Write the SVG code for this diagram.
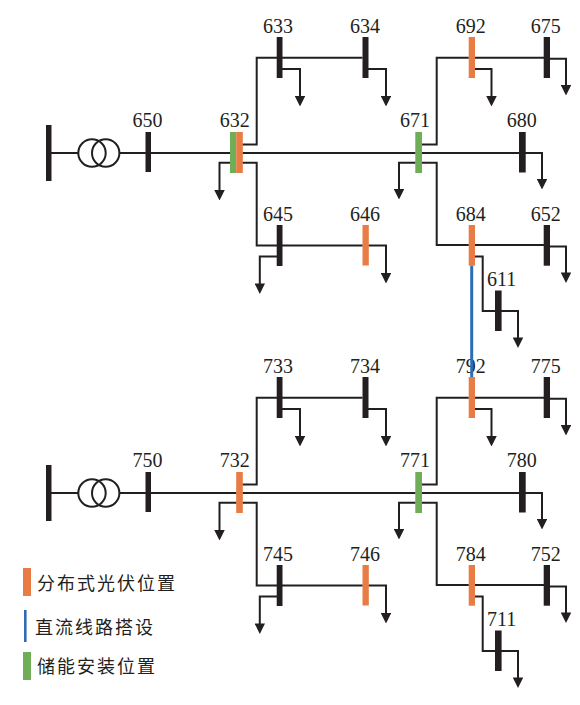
<svg xmlns="http://www.w3.org/2000/svg" width="580" height="705" viewBox="0 0 580 705">
<style>
.k{fill:#231f20}.o{fill:#e97b45}.g{fill:#70ad57}.b{fill:#2e6db4}
.t{font-family:"Liberation Serif","Times New Roman",serif;font-size:20px;fill:#231f20;text-anchor:middle}
.c{font-family:"Noto Sans CJK SC","Liberation Serif",serif;font-size:18px;fill:#231f20;letter-spacing:2px}
.x{fill:none;stroke:#231f20;stroke-width:2}
#conn path{fill:none;stroke:#231f20;stroke-width:2}
#conn path.a{marker-end:url(#ah)}
</style>
<defs><marker id="ah" markerUnits="userSpaceOnUse" viewBox="0 0 10 10" refX="1" refY="5" markerWidth="10.5" markerHeight="10.5" orient="auto"><path d="M0 0L10 5L0 10Z" fill="#231f20"/></marker></defs>
<g id="source1"><rect class="k" x="46" y="125" width="5.5" height="56"/></g>
<g id="trafo1"><circle class="x" cx="92" cy="153" r="13.7"/><circle class="x" cx="105.7" cy="153" r="13.7"/></g>
<g id="n650"><rect class="k" x="145.5" y="132" width="5.5" height="40"/><text class="t" x="147.5" y="127">650</text></g>
<g id="n632"><rect class="g" x="230" y="132" width="6.2" height="41"/><rect class="o" x="236.2" y="132" width="6.6" height="41"/><text class="t" x="234.7" y="127">632</text></g>
<g id="n633"><rect class="k" x="276.7" y="37" width="5.8" height="41"/><text class="t" x="278" y="32.5">633</text></g>
<g id="n634"><rect class="k" x="362.5" y="37" width="6" height="41"/><text class="t" x="365" y="32.5">634</text></g>
<g id="n645"><rect class="k" x="276.7" y="225" width="5.8" height="41"/><text class="t" x="278" y="221">645</text></g>
<g id="n646"><rect class="o" x="362.5" y="225" width="6.3" height="40.5"/><text class="t" x="365" y="221">646</text></g>
<g id="n671"><rect class="g" x="415.3" y="132" width="6.7" height="41"/><text class="t" x="415" y="127">671</text></g>
<g id="n680"><rect class="k" x="519" y="132" width="6.7" height="40.5"/><text class="t" x="521.7" y="127">680</text></g>
<g id="n692"><rect class="o" x="468.7" y="37" width="6.3" height="41"/><text class="t" x="470.7" y="32.5">692</text></g>
<g id="n675"><rect class="k" x="543.7" y="37" width="6.3" height="41"/><text class="t" x="545.7" y="32.5">675</text></g>
<g id="n684"><rect class="o" x="468.7" y="225" width="6.3" height="40.7"/><text class="t" x="470.7" y="221">684</text></g>
<g id="n652"><rect class="k" x="543.7" y="225" width="6.3" height="40.7"/><text class="t" x="545.7" y="221">652</text></g>
<g id="n611"><rect class="k" x="495" y="290.5" width="6.6" height="40.5"/><text class="t" x="501.7" y="286">611</text></g>
<g id="source2"><rect class="k" x="46" y="465" width="5.5" height="56"/></g>
<g id="trafo2"><circle class="x" cx="92" cy="493" r="13.7"/><circle class="x" cx="105.7" cy="493" r="13.7"/></g>
<g id="n750"><rect class="k" x="145.5" y="472" width="5.5" height="40"/><text class="t" x="147.5" y="467">750</text></g>
<g id="n732"><rect class="o" x="236.2" y="472" width="6.6" height="41"/><text class="t" x="234.7" y="467">732</text></g>
<g id="n733"><rect class="k" x="276.7" y="377" width="5.8" height="41"/><text class="t" x="278" y="372.5">733</text></g>
<g id="n734"><rect class="k" x="362.5" y="377" width="6" height="41"/><text class="t" x="365" y="372.5">734</text></g>
<g id="n745"><rect class="k" x="276.7" y="565" width="5.8" height="41"/><text class="t" x="278" y="561">745</text></g>
<g id="n746"><rect class="o" x="362.5" y="565" width="6.3" height="40.5"/><text class="t" x="365" y="561">746</text></g>
<g id="n771"><rect class="g" x="415.3" y="472" width="6.7" height="41"/><text class="t" x="415" y="467">771</text></g>
<g id="n780"><rect class="k" x="519" y="472" width="6.7" height="40.5"/><text class="t" x="521.7" y="467">780</text></g>
<g id="n792"><rect class="o" x="468.7" y="377" width="6.3" height="41"/><text class="t" x="470.7" y="372.5">792</text></g>
<g id="n775"><rect class="k" x="543.7" y="377" width="6.3" height="41"/><text class="t" x="545.7" y="372.5">775</text></g>
<g id="n784"><rect class="o" x="468.7" y="565" width="6.3" height="40.7"/><text class="t" x="470.7" y="561">784</text></g>
<g id="n752"><rect class="k" x="543.7" y="565" width="6.3" height="40.7"/><text class="t" x="545.7" y="561">752</text></g>
<g id="n711"><rect class="k" x="495" y="630.5" width="6.6" height="40.5"/><text class="t" x="501.7" y="626">711</text></g>
<g id="conn">
<path d="M51 153H78.3M119.4 153H230M242.8 153H415.3M422 153H526"/>
<path d="M242.8 144.5H256.7V57.7H362.5"/>
<path class="a" d="M282 69H300V97"/>
<path class="a" d="M368 69H386V97"/>
<path class="a" d="M230 162.7H219.5V191"/>
<path d="M242.8 162.7H256.7V245.5H362.5"/>
<path class="a" d="M277 256.5H259.8V284.5"/>
<path class="a" d="M368.8 245.5H386V274"/>
<path d="M422 144.5H436.7V57.7H468.7M475 57.7H544"/>
<path class="a" d="M475 69H491.5V97"/>
<path class="a" d="M549 58.7H566V86"/>
<path class="a" d="M525 153H542V180"/>
<path class="a" d="M415.3 162.7H399V190"/>
<path d="M422 162.7H436.7V245H468.7M475 245H544"/>
<path class="a" d="M549 246.5H566V273.5"/>
<path d="M475 256.5H482.7V311H496"/>
<path class="a" d="M500 311H518V338.5"/>
<path d="M51 493H78.3M119.4 493H236.2M242.8 493H415.3M422 493H526"/>
<path d="M242.8 484.5H256.7V397.7H362.5"/>
<path class="a" d="M282 409H300V437"/>
<path class="a" d="M368 409H386V437"/>
<path class="a" d="M236.2 502.7H219.5V531"/>
<path d="M242.8 502.7H256.7V585.5H362.5"/>
<path class="a" d="M277 596.5H259.8V624.5"/>
<path class="a" d="M368.8 585.5H386V614"/>
<path d="M422 484.5H436.7V397.7H468.7M475 397.7H544"/>
<path class="a" d="M475 409H491.5V437"/>
<path class="a" d="M549 398.7H566V426"/>
<path class="a" d="M525 493H542V520"/>
<path class="a" d="M415.3 502.7H399V530"/>
<path d="M422 502.7H436.7V585H468.7M475 585H544"/>
<path class="a" d="M549 586.5H566V613.5"/>
<path d="M475 596.5H482.7V651H496"/>
<path class="a" d="M500 651H518V678.5"/>
<path style="stroke:#2e6db4;stroke-width:3" d="M471.7 265.7V377"/>
</g>
<g id="legend">
<rect class="o" x="23" y="568" width="8" height="28"/><text class="c" x="37" y="589.5">分布式光伏位置</text>
<rect class="b" x="24" y="610" width="2.6" height="32"/><text class="c" x="35" y="633.5">直流线路搭设</text>
<rect class="g" x="23" y="652" width="8" height="28"/><text class="c" x="37" y="672.5">储能安装位置</text>
</g>
</svg>
